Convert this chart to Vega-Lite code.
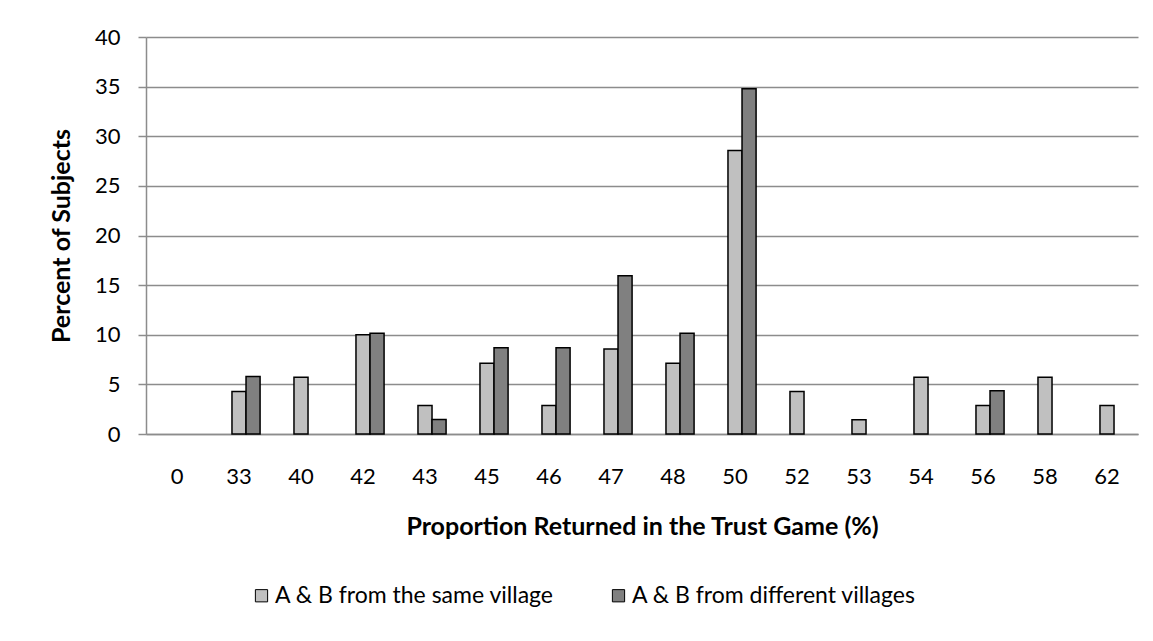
{
  "$schema": "https://vega.github.io/schema/vega-lite/v6.json",
  "autosize": "none",
  "width": 992,
  "height": 397,
  "padding": {"left": 146, "top": 37, "right": 15, "bottom": 207},
  "background": "white",
  "config": {
    "font": "Lato",
    "view": {"stroke": null},
    "axis": {"labelFont": "Lato", "titleFont": "Lato", "labelColor": "black", "titleColor": "black"}
  },
  "data": {
    "values": [
      {"pct": "33", "group": "A & B from the same village", "value": 4.29},
      {"pct": "33", "group": "A & B from different villages", "value": 5.8},
      {"pct": "40", "group": "A & B from the same village", "value": 5.71},
      {"pct": "42", "group": "A & B from the same village", "value": 10.0},
      {"pct": "42", "group": "A & B from different villages", "value": 10.14},
      {"pct": "43", "group": "A & B from the same village", "value": 2.86},
      {"pct": "43", "group": "A & B from different villages", "value": 1.45},
      {"pct": "45", "group": "A & B from the same village", "value": 7.14},
      {"pct": "45", "group": "A & B from different villages", "value": 8.7},
      {"pct": "46", "group": "A & B from the same village", "value": 2.86},
      {"pct": "46", "group": "A & B from different villages", "value": 8.7},
      {"pct": "47", "group": "A & B from the same village", "value": 8.57},
      {"pct": "47", "group": "A & B from different villages", "value": 15.94},
      {"pct": "48", "group": "A & B from the same village", "value": 7.14},
      {"pct": "48", "group": "A & B from different villages", "value": 10.14},
      {"pct": "50", "group": "A & B from the same village", "value": 28.57},
      {"pct": "50", "group": "A & B from different villages", "value": 34.78},
      {"pct": "52", "group": "A & B from the same village", "value": 4.29},
      {"pct": "53", "group": "A & B from the same village", "value": 1.43},
      {"pct": "54", "group": "A & B from the same village", "value": 5.71},
      {"pct": "56", "group": "A & B from the same village", "value": 2.86},
      {"pct": "56", "group": "A & B from different villages", "value": 4.35},
      {"pct": "58", "group": "A & B from the same village", "value": 5.71},
      {"pct": "62", "group": "A & B from the same village", "value": 2.86}
    ]
  },
  "mark": {"type": "bar", "stroke": "black", "strokeWidth": 1.5},
  "encoding": {
    "x": {
      "field": "pct",
      "type": "ordinal",
      "scale": {"domain": ["0","33","40","42","43","45","46","47","48","50","52","53","54","56","58","62"], "paddingInner": 0.32, "paddingOuter": 0.16},
      "axis": {
        "title": "Proportion Returned in the Trust Game (%)",
        "titleFontSize": 25,
        "titleFontWeight": "bold",
        "titlePadding": 27,
        "labelAngle": 0,
        "labelFontSize": 22,
        "labelPadding": 32,
        "ticks": false,
        "domainColor": "#8c8c8c",
        "domainWidth": 1.5
      }
    },
    "xOffset": {
      "field": "group",
      "type": "nominal",
      "scale": {"domain": ["(empty)", "A & B from the same village", "A & B from different villages"], "paddingInner": 0, "paddingOuter": 0}
    },
    "y": {
      "field": "value",
      "type": "quantitative",
      "scale": {"domain": [0, 40]},
      "axis": {
        "title": "Percent of Subjects",
        "titleFontSize": 25,
        "titleFontWeight": "bold",
        "titlePadding": 20,
        "values": [0,5,10,15,20,25,30,35,40],
        "labelFontSize": 22,
        "labelPadding": 18,
        "tickSize": 8,
        "tickColor": "#8c8c8c",
        "tickWidth": 1.5,
        "domainColor": "#8c8c8c",
        "domainWidth": 1.5,
        "gridColor": "#8c8c8c",
        "gridWidth": 1.5
      }
    },
    "color": {
      "field": "group",
      "type": "nominal",
      "scale": {"domain": ["A & B from the same village", "A & B from different villages"], "range": ["#c0c0c0", "#808080"]},
      "legend": {
        "title": null,
        "orient": "none",
        "direction": "horizontal",
        "legendX": 104,
        "legendY": 547,
        "symbolType": "square",
        "symbolSize": 150,
        "symbolStrokeColor": "black",
        "symbolStrokeWidth": 1,
        "symbolOpacity": 1,
        "labelFontSize": 23,
        "labelLimit": 0,
        "labelColor": "black",
        "labelOffset": 2,
        "columnPadding": 52
      }
    }
  }
}
